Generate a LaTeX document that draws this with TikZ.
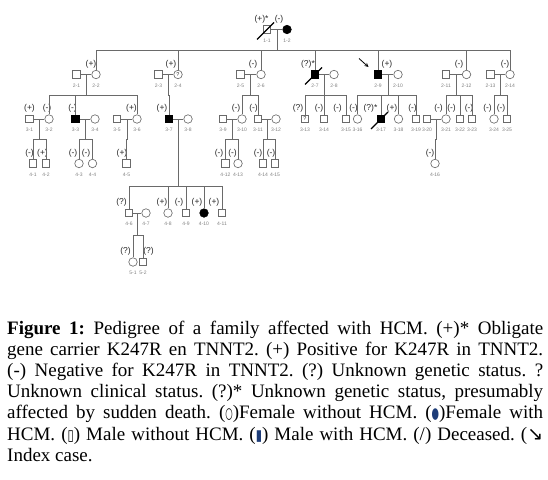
\documentclass[tikz,border=0pt]{standalone}
\usepackage{fontspec}
\usepackage{graphicx}
\setmainfont{Liberation Serif}
\newfontfamily\arialf{Liberation Sans}
\newfontfamily\symf{DejaVu Sans}
\usetikzlibrary{calc}
\definecolor{linec}{HTML}{6A6A6A}
\definecolor{hcmblue}{HTML}{1D3C78}
\newcommand{\symb}[3][black]{{\symf\textcolor{#1}{\scalebox{#2}[.8]{#3}}}}
\frenchspacing
\begin{document}
\begin{tikzpicture}[x=1pt,y=-1pt,
    ped/.style={draw=linec,line width=.65pt},
    male/.style={ped,minimum size=7.5pt,inner sep=0pt},
    female/.style={male,circle,minimum size=8.5pt},
    maleA/.style={male,fill=black,draw=black},
    femaleA/.style={female,fill=black,draw=black},
    stat/.style={font=\arialf\fontsize{8.5}{9}\selectfont,text=black!85,inner sep=0pt},
    idl/.style={font=\arialf\fontsize{5}{5}\selectfont,text=gray,inner sep=0pt},
    dead/.style={draw=black,line width=1.2pt}]
\useasboundingbox (0,0) rectangle (548,479);
% cá thể: tên/x/y/kiểu/mã
\foreach \n/\x/\y/\s/\t in {a1/267/29.5/male/1-1,a2/287/29.5/femaleA/1-2,
    b1/76.5/74.5/male/2-1,b2/96/74.5/female/2-2,b3/158.5/74.5/male/2-3,b4/178/74.5/female/2-4,
    b5/240.5/74.5/male/2-5,b6/261/74.5/female/2-6,b7/315/74.5/maleA/2-7,b8/334/74.5/female/2-8,
    b9/378/74.5/maleA/2-9,b10/398/74.5/female/2-10,b11/446/74.5/male/2-11,b12/466.5/74.5/female/2-12,
    b13/490.5/74.5/male/2-13,b14/510/74.5/female/2-14,
    c1/29.5/119/male/3-1,c2/49/119/female/3-2,c3/75.5/119/maleA/3-3,c4/95/119/female/3-4,
    c5/117/119/male/3-5,c6/137/119/female/3-6,c7/169/119/maleA/3-7,c8/188/119/female/3-8,
    c9/223/119/male/3-9,c10/242/119/female/3-10,c11/258/119/male/3-11,c12/276/119/female/3-12,
    c13/305/119/male/3-13,c14/324/119/male/3-14,c15/346/119/male/3-15,c16/357.5/119/female/3-16,
    c17/381/119/maleA/3-17,c18/398.5/119/female/3-18,c19/416/119/male/3-19,c20/427/119/male/3-20,
    c21/446/119/female/3-21,c22/460/119/male/3-22,c23/472/119/male/3-23,c24/494/119/female/3-24,
    c25/507/119/male/3-25,
    d1/33/163.5/male/4-1,d2/46/163.5/male/4-2,d3/79/163.5/female/4-3,d4/92.5/163.5/female/4-4,
    d5/126.5/163.5/male/4-5,d6/129/213/male/4-6,d7/146/213/female/4-7,d8/168/213/female/4-8,
    d9/186/213/male/4-9,d10/204/213/femaleA/4-10,d11/222/213/male/4-11,d12/225.5/163.5/male/4-12,
    d13/238/163.5/female/4-13,d14/263/163.5/male/4-14,d15/275/163.5/male/4-15,d16/435/163.5/female/4-16,
    e1/133/262/female/5-1,e2/143/262/male/5-2}
    \path (\x,\y) node[\s] (\n) {} ++(0,11) node[idl] (i\n) {\t};
\path (b4) node[stat,font=\arialf\fontsize{5.5}{6}\selectfont] (qb4) {?}
      (c13) node[stat,font=\arialf\fontsize{5.5}{6}\selectfont] (qc13) {?};
% trạng thái gen
\path foreach \n/\dx/\t in {a1/-5.5/(+)*,a2/-8/(-),b2/-5/(+),b4/-7/(+),b6/-8/(-),b7/-7/(?)*,
    b9/9/(+),b12/-7.5/(-),b14/-5/(-),c1/0/(+),c2/-2/(-),c3/-3/(-),c6/-5.5/(+),c7/-7/(+),
    c10/-6/(-),c11/-4.5/(-),c13/-7/(?),c14/-5/(-),c15/-8.5/(-),c16/-4/(-),c17/-10.5/(?)*,
    c18/-6.5/(+),c19/-3.5/(-),c21/-7.5/(-),c22/-8.5/(-),c23/-3/(-),c24/-6.5/(-),c25/-6/(-),
    d1/-3.5/(-),d2/-3.5/(+),d3/-6/(-),d4/-6.5/(-),d5/-4.5/(+),d6/-7.5/(?),d8/-6/(+),d9/-7/(-),
    d10/-7/(+),d11/-8/(+),d12/-6.5/(-),d13/-5.5/(-),d14/-5/(-),d15/-4/(-),d16/-5/(-),
    e1/-7.5/(?),e2/5.5/(?)} {(\n) ++(\dx,-10.5) node[stat] (s\n) {\t}};
% cặp vợ chồng và con
\foreach \p/\q/\h/\kids in {a1/a2/50/{b2,b4,b6,b7,b9,b12,b14},b1/b2/95/{c2,c3,c6},b3/b4/95/{c7},
    b5/b6/95/{c10,c11},b7/b8/95/{c13,c14,c15},b9/b10/95/{c16,c17,c18,c19},b11/b12/95/{c21,c22,c23},
    b13/b14/95/{c24,c25},c1/c2/139/{d1,d2},c3/c4/139/{d3,d4},c5/c6/139/{d5},
    c7/c8/186/{d6,d8,d9,d10,d11},c9/c10/139/{d12,d13},c11/c12/139/{d14,d15},c20/c21/139/{d16},
    d6/d7/235/{e1,e2}}{
    \draw[ped] (\p) -- (\q);
    \coordinate (m\p) at ($(\p)!.5!(\q)$);
    \coordinate (h\p) at (0,\h);
    \foreach \kid in \kids \draw[ped] (m\p) -- (m\p |- h\p) -| (\kid.north);
}
\foreach \n in {a1,b7,c17} \draw[dead] (\n) ++(-10,10) -- ++(17,-17);
\draw[->,>=stealth,line width=.8pt] (b9) ++(-19,-16) -- ++(9.5,8.5);
% chú thích
\node[anchor=north west,text width=536pt,align=justify,inner sep=0pt,
    font=\fontsize{19}{21.1}\selectfont] (cap) at (7,321) {\tolerance=9999\hbadness=10000\noindent
\textbf{Figure 1:} Pedigree of a family affected with HCM. (+)* Obligate\linebreak
gene carrier K247R en TNNT2. (+) Positive for K247R in TNNT2.\linebreak
(-) Negative for K247R in TNNT2. (?) Unknown genetic status. ?\linebreak
Unknown clinical status. (?)* Unknown genetic status, presumably\linebreak
affected by sudden death. (\symb{.45}{○})Female without HCM. (\symb[hcmblue]{.45}{●})Female with\linebreak
HCM. (\symb{.6}{▯}) Male without HCM. (\symb[hcmblue]{.6}{▮}) Male with HCM. (/) Deceased. ({\symf↘}\linebreak
Index case.};
\end{tikzpicture}
\end{document}
